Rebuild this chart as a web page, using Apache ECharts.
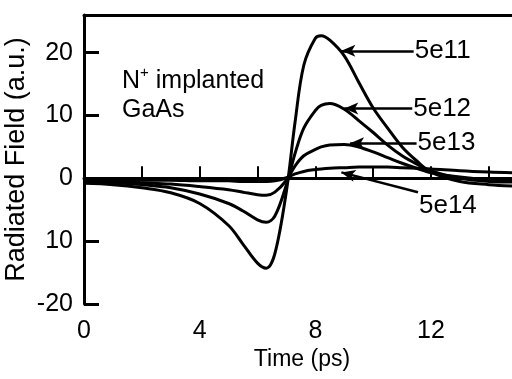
<!DOCTYPE html>
<html>
<head>
<meta charset="utf-8">
<title>Radiated Field</title>
<script src="https://cdn.jsdelivr.net/npm/echarts@6/dist/echarts.min.js"></script>
<style>
	html,body{margin:0;padding:0;background:#fff;}
	#main{width:512px;height:379px;}
</style>
</head>
<body>
<div id="main"></div>
<script>
// time in ps
var times = [0, 1, 2, 3, 4, 5, 5.5, 6, 6.3, 6.6, 7, 7.3, 7.6, 8, 8.2, 8.5, 9, 9.5, 10, 10.5, 11, 11.5, 12, 13, 14, 14.8];
var field5e11 = [-0.8, -1, -1.5, -2.3, -4, -7.5, -10.5, -13.5, -14.3, -12, -2, 9, 18, 22.3, 22.7, 22, 19.5, 15.3, 11.2, 8, 5, 2.8, 1, -0.5, -1, -1.2];
var field5e12 = [-0.5, -0.7, -1, -1.5, -2.5, -4, -5.2, -6.6, -7, -6, -1, 4, 8, 10.8, 11.6, 11.9, 11, 9.2, 7.3, 5.3, 3.6, 2.3, 1.2, 0, -0.5, -0.6];
var field5e13 = [-0.4, -0.5, -0.7, -0.9, -1.3, -1.8, -2.2, -2.6, -2.7, -2.2, -0.3, 2, 3.6, 4.6, 5, 5.3, 5.4, 5, 4.2, 3.3, 2.4, 1.6, 0.9, 0.2, -0.2, -0.3];
var field5e14 = [-0.2, -0.2, -0.3, -0.3, -0.4, -0.4, -0.5, -0.5, -0.5, -0.4, 0.1, 0.7, 1.1, 1.4, 1.5, 1.6, 1.7, 1.8, 1.8, 1.8, 1.7, 1.6, 1.5, 1.2, 1, 0.9];
var doseNames = ['5e11', '5e12', '5e13', '5e14'];
var yTickLabels = {'-20': '-20', '-10': '10', '0': '0', '10': '10', '20': '20'};
var xTickLabels = [0, 4, 8, 12];

var font = 'Liberation Sans, Arial, Helvetica, sans-serif';

// arrow: [tail, tip] in data coords
var arrows = [
	[[11.4, 20.3], [8.9, 20.3]],
	[[11.35, 11.1], [9.0, 11.1]],
	[[11.5, 5.6], [9.2, 5.6]],
	[[11.55, -2.2], [8.9, 0.95]]
];

function pairs(ys){
	return times.map(function(t, i){ return [t, ys[i]]; });
}

var allData = [field5e11, field5e12, field5e13, field5e14];
var series = allData.map(function(ys, i){
	// the 5e14 label sits below its arrow tail
	var txt = i === 3 ? '\n' + doseNames[i] : doseNames[i];
	return {
		type: 'line',
		name: doseNames[i],
		data: pairs(ys),
		smooth: 0.35,
		showSymbol: false,
		lineStyle: {color: '#000', width: 3},
		z: 3,
		markLine: {
			silent: true,
			symbol: ['none', 'arrow'],
			symbolSize: [9, 14],
			lineStyle: {color: '#000', width: 2.5, type: 'solid'},
			label: {
				show: true,
				position: 'start',
				formatter: txt,
				color: '#000',
				fontFamily: font,
				fontSize: 26,
				lineHeight: 26,
				distance: 1
			},
			data: [[{coord: arrows[i][0]}, {coord: arrows[i][1]}]]
		}
	};
});

var myChart = echarts.init(document.getElementById('main'));
myChart.setOption({
	animation: false,
	backgroundColor: '#fff',
	grid: {left: 84, right: 0, top: 15, bottom: 75, outerBoundsMode: 'none'},
	xAxis: [{
		type: 'value',
		min: 0,
		max: 14.8,
		interval: 2,
		name: 'Time (ps)',
		nameLocation: 'middle',
		nameGap: 44,
		nameMoveOverlap: false,
		nameTextStyle: {color: '#000', fontFamily: font, fontSize: 23, padding: [0, 0, 0, 8]},
		splitLine: {show: false},
		axisLine: {lineStyle: {color: '#000', width: 3}},
		axisTick: {inside: true, length: 12, lineStyle: {color: '#000', width: 2}},
		axisLabel: {
			color: '#000', fontFamily: font, fontSize: 25, margin: 15,
			showMaxLabel: false,
			formatter: function(v){ return xTickLabels.indexOf(v) >= 0 ? String(v) : ''; }
		}
	}, {
		type: 'value',
		position: 'top',
		min: 0,
		max: 14.8,
		splitLine: {show: false},
		axisLine: {show: true, lineStyle: {color: '#000', width: 3}},
		axisTick: {show: false},
		axisLabel: {show: false}
	}],
	yAxis: {
		type: 'value',
		min: -20,
		max: 26,
		interval: 10,
		name: 'Radiated Field (a.u.)',
		nameLocation: 'middle',
		nameGap: 54,
		nameMoveOverlap: false,
		nameTextStyle: {color: '#000', fontFamily: font, fontSize: 27},
		splitLine: {show: false},
		axisLine: {lineStyle: {color: '#000', width: 3}},
		axisTick: {inside: true, length: 15, lineStyle: {color: '#000', width: 3}},
		axisLabel: {
			color: '#000', fontFamily: font, fontSize: 25, margin: 11,
			formatter: function(v){ return yTickLabels[String(v)] || ''; }
		}
	},
	graphic: [{
		type: 'text',
		left: 122,
		top: 65,
		style: {
			text: '{n|N}{s|+}{n| implanted}\n{n|GaAs}',
			fill: '#000',
			rich: {
				n: {fontFamily: font, fontSize: 25, lineHeight: 29, verticalAlign: 'bottom'},
				s: {fontFamily: font, fontSize: 15, lineHeight: 29, verticalAlign: 'top'}
			}
		}
	}],
	series: series
});
</script>
</body>
</html>
